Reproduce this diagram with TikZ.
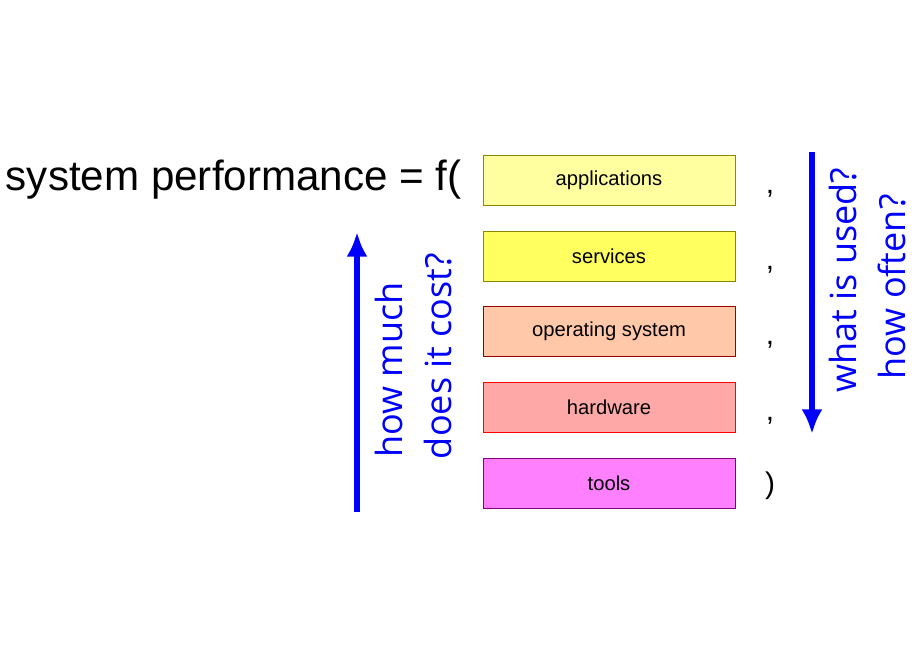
\documentclass[tikz,border=0pt]{standalone}
\usepackage{fontspec}
\setmainfont{Liberation Sans}
\newfontfamily\bluefont{Open Sans}
\usetikzlibrary{positioning,arrows.meta}
\definecolor{appfill}{HTML}{FFFFA0}
\definecolor{srvfill}{HTML}{FFFF60}
\definecolor{osfill}{HTML}{FFC8A8}
\definecolor{hwfill}{HTML}{FFA8A8}
\definecolor{toolfill}{HTML}{FF80FF}
\definecolor{arrblue}{HTML}{0000FF}
\begin{document}
\begin{tikzpicture}[x=0.02cm,y=-0.02cm]
  \tikzset{layer/.style={draw,minimum width=5.04cm,minimum height=1cm,font=\fontsize{11.5}{13}\selectfont}}
  \tikzset{sep/.style={font=\fontsize{17}{20}\selectfont}}
  \tikzset{ask/.style={text=arrblue,rotate=90,font=\bluefont\fontsize{20.5}{24}\selectfont}}
  \tikzset{bigarrow/.style={draw=arrblue,line width=3.5pt,-{Latex[length=14pt,width=12pt]}}}
  \useasboundingbox (0,0) rectangle (920,660);
  % layers
  \node[layer,fill=appfill,draw=olive] (apps) at (609,180) {applications};
  \node[layer,fill=srvfill,draw=olive] (srv) at (609,256) {services};
  \node[layer,fill=osfill,draw=red!60!black] (os) at (609,331) {operating system};
  \node[layer,fill=hwfill,draw=red] (hw) at (609,407) {hardware};
  \node[layer,fill=toolfill,draw=violet] (tools) at (609,483) {tools};
  \node[anchor=east,inner sep=0pt,font=\fontsize{24}{28}\selectfont] (title) at (462,180) {system performance = f(};
  % separators
  \node[sep] (c1) at (770,194) {,};
  \node[sep] (c2) at (770,270) {,};
  \node[sep] (c3) at (770,345) {,};
  \node[sep] (c4) at (770,421) {,};
  \node[sep] (cl) at (770,486) {)};
  % arrows
  \coordinate (costlo) at (357,512);
  \coordinate (costhi) at (357,232);
  \coordinate (usehi) at (812,152);
  \coordinate (uselo) at (812,434);
  \draw[bigarrow] (costlo) -- (costhi);
  \draw[bigarrow] (usehi) -- (uselo);
  \node[ask] (cost1) at (389,370) {how much};
  \node[ask] (cost2) at (438,356) {does it cost?};
  \node[ask] (use1) at (843,280) {what is used?};
  \node[ask] (use2) at (892,287) {how often?};
\end{tikzpicture}
\end{document}
